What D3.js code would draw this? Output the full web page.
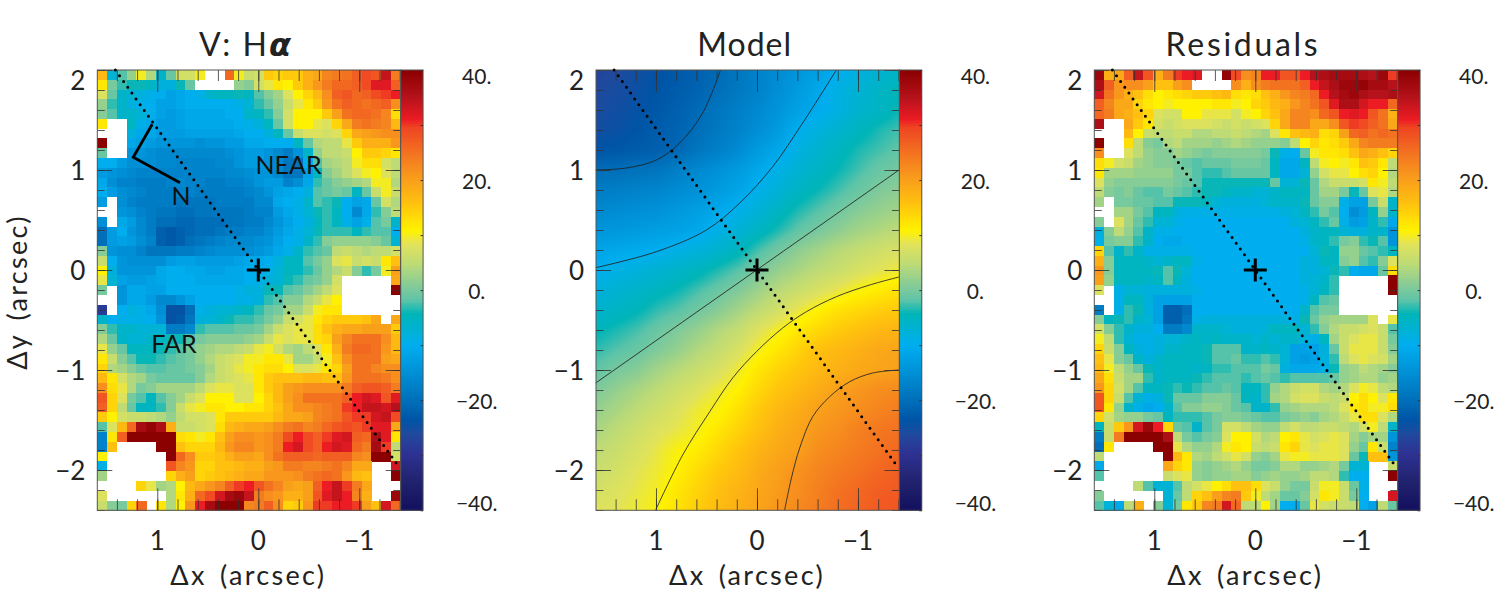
<!DOCTYPE html>
<html>

<head>
    <title>V: Halpha</title>
    <script src="https://cdn.jsdelivr.net/npm/d3@7"></script>
    <style>
        body { margin: 0; background: #fff; }
        svg { display: block; }
        text { font-family: Lato, "Open Sans", sans-serif; font-weight: 400; fill: #222; }
    </style>
</head>

<body>
    <svg width="1495" height="598" id="mainsvg"></svg>
    <script>
        const n = null;

        // velocity map, km/s per spaxel (31 columns, 45 rows, top row first)
        const velocityMap = [
            [17,-7,-2,2,10,4,-6,-1,7,7,10,n,n,26,10,6,7,15,14,15,15,18,19,23,24,25,27,29,28,34,24],
            [12,0,-3,-4,-4,-5,-8,-8,-4,-1,n,n,n,n,2,1,7,9,12,11,15,18,21,24,26,26,27,29,32,32,27],
            [8,-1,-6,-7,-8,-9,-10,-12,-11,-10,-9,-6,-5,-5,-4,-5,-2,1,3,8,11,14,17,22,27,28,26,27,29,30,31],
            [2,-3,-6,-8,-9,-10,-12,-12,-11,-10,-10,-10,-10,-10,-9,-7,-3,-1,2,6,9,12,15,21,25,27,26,25,26,27,22],
            [1,-2,-6,-6,-7,-9,-12,-13,-12,-11,-11,-11,-11,-10,-10,-6,-5,-3,1,7,11,11,11,15,20,25,26,26,25,23,13],
            [12,n,n,-5,-9,-11,-13,-13,-12,-11,-11,-11,-11,-11,-10,-9,-8,-5,-1,7,11,11,9,8,14,19,24,25,24,23,17],
            [n,n,n,-8,-11,-11,-13,-13,-13,-12,-12,-12,-12,-12,-11,-10,-10,-8,-5,-1,6,8,8,7,8,14,19,20,21,22,22],
            [40,n,n,-11,-12,-13,-14,-14,-14,-14,-15,-14,-14,-13,-13,-11,-11,-10,-10,-10,-5,-1,4,5,5,9,15,18,18,18,21],
            [-1,n,n,-14,-14,-15,-16,-16,-16,-16,-16,-16,-16,-15,-14,-13,-13,-14,-16,-18,-14,-6,2,5,5,6,11,15,15,14,12],
            [-10,-10,-13,-15,-15,-15,-16,-16,-17,-17,-17,-17,-16,-16,-14,-13,-13,-14,-16,-19,-19,-10,-2,3,4,5,10,13,13,7,5],
            [-13,-14,-15,-16,-17,-17,-17,-17,-17,-17,-17,-17,-17,-16,-16,-15,-14,-14,-16,-19,-19,-12,-5,1,3,5,8,10,11,8,5],
            [-11,-15,-17,-17,-18,-18,-18,-17,-16,-17,-17,-18,-18,-17,-17,-16,-14,-13,-13,-17,-15,-11,-3,-1,1,2,3,4,10,10,4],
            [-10,-13,-15,-16,-17,-18,-18,-18,-17,-17,-18,-18,-18,-18,-18,-17,-16,-14,-12,-11,-10,-8,-2,-1,0,-1,-5,-1,6,10,6],
            [-13,n,-15,-17,-18,-18,-18,-18,-19,-19,-19,-19,-18,-18,-18,-18,-16,-16,-11,-10,-9,-6,-2,-3,-4,-10,-12,-11,-1,7,4],
            [n,n,-14,-15,-17,-18,-19,-19,-20,-20,-19,-19,-19,-19,-19,-18,-17,-17,-13,-11,-9,-7,-4,-3,-5,-10,-16,-11,-3,1,5],
            [-15,n,-11,-13,-16,-18,-20,-20,-21,-21,-20,-20,-20,-19,-19,-18,-18,-16,-14,-12,-10,-8,-5,-3,-5,-9,-12,-9,-2,0,-6],
            [-20,-13,-10,-14,-16,-18,-22,-23,-22,-21,-20,-20,-19,-18,-18,-17,-17,-15,-13,-11,-9,-7,-4,-3,-3,-3,-5,-3,-2,-2,-10],
            [-20,-13,-12,-13,-15,-17,-22,-23,-22,-20,-19,-18,-17,-16,-16,-16,-15,-14,-12,-10,-9,-6,-3,1,2,2,2,2,1,-1,-7],
            [1,-14,-15,-15,-17,-19,-19,-19,-18,-18,-17,-16,-15,-15,-15,-15,-14,-13,-11,-9,-6,-3,-2,-1,5,6,5,4,5,5,7],
            [6,-10,-14,-15,-15,-15,-15,-13,-12,-12,-13,-13,-13,-13,-12,-11,-11,-10,-8,-5,-5,-2,0,2,8,9,6,7,6,12,16],
            [11,-8,-14,-14,-14,-14,-11,-10,-10,-11,-11,-12,-12,-11,-11,-10,-10,-9,-7,-5,-5,-3,-1,2,4,6,1,-3,0,10,20],
            [9,-7,-12,-13,-13,-12,-11,-10,-10,-10,-11,-11,-11,-11,-11,-10,-9,-8,-7,-4,-3,-1,0,2,7,n,n,n,n,n,19],
            [0,n,-14,-11,-11,-12,-12,-10,-10,-10,-10,-10,-10,-10,-9,-8,-8,-4,-4,-2,-1,1,3,5,8,n,n,n,n,n,40],
            [n,n,-14,-11,-11,-13,-16,-16,-14,-12,-10,-10,-10,-10,-9,-9,-8,-3,-2,1,1,4,6,9,11,n,n,n,n,n,n],
            [-28,n,-10,-8,-9,-11,-15,-24,-24,-20,-9,-8,-7,-7,-6,-5,-3,-1,0,3,3,6,10,12,12,n,n,n,n,n,n],
            [-6,-10,-9,-9,-9,-10,-14,-24,-23,-19,-8,-7,-6,-4,-3,-3,-2,0,2,6,7,9,12,14,15,15,15,16,19,n,19],
            [1,-3,-6,-6,-7,-7,-7,-18,-18,-16,-3,-2,-2,-2,-1,-1,0,3,6,8,9,9,13,16,18,19,19,20,20,20,15],
            [4,-1,-6,-7,-7,-6,-5,-4,-4,-2,0,1,1,1,1,2,3,6,9,8,9,9,13,14,20,23,25,25,25,22,17],
            [9,2,-1,-5,-5,-5,-4,-3,-2,0,2,3,4,4,5,6,9,10,7,4,3,5,8,12,18,24,26,26,25,21,17],
            [12,6,1,-2,-4,-4,-3,-2,-1,0,2,4,6,7,8,10,10,12,12,9,3,3,6,10,16,22,25,25,25,20,19],
            [14,4,3,1,-1,-2,-2,-1,-1,0,1,3,6,7,9,10,12,13,13,11,8,8,9,12,14,20,25,25,23,22,22],
            [17,12,7,4,3,0,-1,-1,-1,-1,1,4,6,7,8,9,12,15,16,16,16,17,17,16,16,21,25,25,25,24,22],
            [22,13,9,4,0,1,3,3,3,3,5,8,9,9,8,8,12,15,17,20,21,22,22,22,22,24,27,28,28,27,24],
            [28,14,8,0,-2,-5,-2,1,3,6,8,11,11,11,8,8,11,14,17,20,22,25,25,25,25,27,31,33,32,28,32],
            [27,14,5,-1,-5,-5,-3,1,6,9,10,12,12,11,11,12,12,14,16,19,22,22,23,24,25,30,31,34,34,33,35],
            [15,11,7,6,6,5,4,2,5,7,7,8,12,15,15,15,15,15,17,19,19,20,23,24,25,28,30,30,33,34,29],
            [-2,8,17,26,37,39,36,18,6,6,7,8,13,17,18,19,19,20,22,24,25,23,24,26,28,29,28,30,32,32,19],
            [-17,12,27,40,40,40,40,40,13,12,10,12,16,20,22,22,21,22,24,29,31,29,27,30,32,33,27,26,36,32,12],
            [-17,16,n,n,n,n,40,40,16,14,14,14,17,21,23,23,21,22,24,31,33,29,27,31,33,32,26,24,37,30,5],
            [11,n,n,n,n,n,n,40,26,22,15,15,16,18,20,20,19,22,25,27,27,27,26,27,27,27,23,22,40,40,7],
            [-9,n,n,n,n,n,n,28,23,21,14,14,16,16,17,18,18,20,21,24,24,23,23,24,25,23,19,19,n,n,33],
            [3,n,n,n,n,n,n,14,18,20,14,15,16,17,18,19,19,21,21,21,22,24,25,26,25,21,17,16,n,n,40],
            [n,n,n,n,14,9,3,4,11,17,19,21,23,27,30,31,28,25,23,20,19,20,27,31,34,30,24,19,n,n,n],
            [8,n,n,n,n,n,n,4,12,18,26,29,33,37,38,34,24,22,21,18,18,20,28,32,34,31,23,18,n,n,38],
            [6,1,0,14,26,n,12,4,11,21,31,37,40,40,40,23,24,27,22,14,15,21,30,30,31,31,30,20,16,33,26]
        ];

        // residual map, same grid
        const residualMap = [
            [38,18,19,27,34,28,18,24,30,31,32,n,n,39,29,22,23,31,31,28,28,31,35,36,37,37,37,36,35,38,30],
            [36,27,21,22,22,20,16,16,20,22,n,n,n,n,22,18,22,24,25,25,25,27,31,34,36,38,38,39,37,37,35],
            [33,25,21,18,16,13,11,12,13,14,15,15,16,17,13,12,13,16,18,21,23,24,26,31,35,37,38,36,35,35,36],
            [27,23,19,19,14,12,11,10,11,11,11,11,12,12,10,11,14,15,17,18,21,23,25,28,32,36,36,33,31,31,26],
            [26,24,19,18,16,14,8,7,7,11,11,9,9,9,7,10,11,14,16,19,23,23,22,26,28,31,32,31,28,25,18],
            [36,n,n,19,15,12,7,6,7,8,8,8,7,6,7,6,7,8,14,19,23,23,19,19,22,28,30,29,27,25,19],
            [n,n,n,17,11,6,5,5,6,6,4,4,5,5,6,5,4,3,8,12,16,17,18,13,14,20,26,27,25,26,25],
            [40,n,n,13,5,1,0,4,5,3,3,3,2,3,4,3,2,2,2,1,5,11,14,12,13,15,19,23,24,24,24],
            [22,n,n,8,5,2,1,1,3,2,1,0,1,1,1,1,1,0,-4,-9,-10,-1,10,12,12,13,16,19,18,16,14],
            [13,10,7,6,3,2,1,1,0,-1,-2,-1,-1,-1,0,0,0,-1,-5,-11,-11,-5,5,10,11,10,12,16,15,12,5],
            [12,3,3,3,2,2,2,2,0,0,-2,-3,-3,-2,-1,-1,-1,-1,-5,-11,-11,-7,2,7,9,9,11,13,14,11,4],
            [8,2,1,1,1,1,1,1,0,-1,-2,-4,-4,-4,-4,-4,-4,-4,-1,-7,-7,-4,-1,4,6,6,6,7,12,10,5],
            [5,1,0,1,-1,-2,-2,0,-1,-2,-3,-4,-4,-5,-6,-6,-7,-7,-6,-5,-5,-5,-1,3,3,0,-4,-1,8,9,4],
            [3,n,0,0,-1,-1,-2,-2,-4,-4,-4,-5,-7,-8,-8,-8,-8,-7,-6,-6,-6,-4,-1,1,1,-9,-12,-12,0,6,-6],
            [n,n,3,3,0,-2,-5,-5,-8,-9,-9,-9,-9,-9,-9,-9,-9,-9,-9,-8,-7,-5,-3,0,-2,-10,-15,-13,-5,2,-6],
            [1,n,8,3,-1,-3,-7,-7,-9,-10,-10,-10,-10,-10,-10,-10,-10,-10,-10,-10,-8,-7,-5,-3,-1,-9,-13,-12,-6,-3,-11],
            [-8,1,5,2,-2,-6,-9,-9,-10,-10,-10,-10,-10,-10,-10,-10,-10,-10,-10,-10,-10,-8,-6,-5,-5,-7,-8,-8,-6,-6,-14],
            [-9,0,1,1,-3,-6,-10,-11,-11,-10,-10,-10,-10,-10,-10,-10,-10,-10,-10,-10,-10,-9,-6,-5,-3,0,1,-3,-4,-2,-14],
            [14,-2,-6,-3,-6,-9,-9,-9,-9,-9,-10,-10,-10,-10,-10,-10,-10,-10,-10,-10,-10,-10,-7,-4,-5,2,2,-1,-2,-3,-5],
            [18,1,-5,-5,-5,-6,-7,-6,-5,-5,-9,-10,-10,-10,-10,-10,-10,-10,-10,-10,-10,-8,-8,-5,-5,1,2,-2,-3,1,8],
            [21,1,-5,-5,-5,-5,-4,-2,-4,-7,-10,-10,-10,-10,-10,-10,-10,-10,-10,-10,-10,-8,-8,-7,-4,-3,-10,-11,-11,-1,13],
            [20,2,-5,-5,-5,-6,-5,-2,-5,-8,-10,-10,-10,-10,-10,-10,-10,-10,-10,-10,-10,-8,-7,-6,-3,n,n,n,n,n,40],
            [8,n,-9,-7,-7,-8,-8,-8,-8,-8,-9,-10,-10,-10,-10,-10,-10,-10,-10,-10,-10,-9,-7,-5,-3,n,n,n,n,n,40],
            [n,n,-9,-5,-5,-8,-12,-12,-12,-12,-10,-10,-10,-10,-10,-10,-10,-10,-10,-10,-10,-9,-5,-2,-1,n,n,n,n,n,n],
            [-18,n,-9,-3,-4,-8,-12,-22,-22,-20,-10,-10,-10,-10,-10,-10,-10,-10,-10,-10,-10,-6,-2,0,0,n,n,n,n,n,n],
            [1,-5,-4,-3,-6,-7,-12,-22,-22,-19,-9,-8,-8,-8,-8,-8,-8,-8,-8,-8,-9,-4,-1,2,3,3,3,3,8,n,9],
            [7,1,-3,-6,-8,-8,-10,-18,-18,-16,-6,-6,-6,-7,-8,-8,-8,-7,-5,-5,-5,-7,-3,1,4,6,6,7,8,6,-2],
            [10,5,-3,-7,-9,-9,-8,-7,-7,-6,-5,-6,-5,-6,-6,-6,-7,-6,-7,-6,-6,-8,-9,-5,3,6,8,9,9,6,0],
            [14,6,1,-5,-8,-9,-8,-6,-6,-5,-5,-4,-2,-2,-2,-6,-6,-5,-6,-7,-12,-12,-12,-8,-1,6,9,9,9,6,1],
            [16,9,1,-1,-6,-8,-6,-5,-5,-5,-5,-4,-2,-2,-1,-3,-3,-2,-3,-7,-12,-13,-12,-8,-3,5,8,9,8,7,3],
            [17,10,5,2,-1,-4,-6,-5,-5,-5,-6,-5,-3,-3,-2,-2,-2,0,-1,-8,-11,-11,-11,-9,-4,2,3,5,4,3,1],
            [19,13,6,3,3,-3,-6,-5,-5,-5,-4,-3,-2,-2,-2,-3,-2,-1,-2,-3,-2,-2,-2,-2,-1,2,3,4,4,2,3],
            [21,14,7,3,-2,-5,-5,-4,-3,-4,-3,-2,-2,-1,-2,-5,-5,-3,2,4,6,7,7,4,3,4,8,10,9,5,4],
            [28,14,6,-2,-7,-9,-8,-4,-1,-1,-1,1,1,1,-1,-5,-6,-3,3,4,7,8,8,6,5,6,11,13,11,8,12],
            [28,12,2,-6,-9,-11,-10,-6,-2,1,1,2,2,1,-1,-2,-6,-6,-3,2,3,4,4,4,5,8,12,13,10,10,13],
            [14,7,3,2,2,0,-1,-5,-3,-3,-3,-2,0,1,1,0,-1,-2,-2,0,1,2,1,3,4,6,9,13,13,8,4],
            [-5,6,15,21,33,38,31,14,-1,-2,-6,-2,0,7,7,5,3,2,2,5,7,5,5,6,6,5,4,7,10,5,-6],
            [-18,6,24,40,40,40,40,36,5,0,-2,0,1,8,11,11,7,4,5,11,12,9,7,8,9,8,3,1,3,3,-14],
            [-20,12,n,n,n,n,40,40,9,4,2,2,4,10,12,11,6,5,6,12,14,9,8,9,9,8,2,-1,12,6,-17],
            [5,n,n,n,n,n,n,40,17,12,4,3,5,7,9,7,2,1,3,9,10,10,9,9,9,8,-1,-4,16,16,-14],
            [-11,n,n,n,n,n,n,19,14,12,2,1,2,3,4,2,0,0,1,4,4,2,2,3,4,0,-7,-7,n,n,6],
            [-2,n,n,n,n,n,n,6,8,9,2,1,2,2,3,3,1,2,3,2,2,3,5,5,4,-3,-10,-10,n,n,40],
            [n,n,n,n,5,-2,-7,-7,-2,5,7,9,11,13,16,16,13,8,6,2,0,0,6,10,10,6,-1,-9,n,n,n],
            [1,n,n,n,n,n,n,-7,-1,5,14,16,20,23,24,15,10,5,3,-1,-1,1,7,12,10,6,0,-10,n,n,33],
            [-2,-7,-11,5,18,n,1,-7,0,12,15,23,24,33,26,5,5,11,3,-10,-10,-1,9,7,6,6,5,-10,-12,5,-1]
        ];

        // model map, sampled every 0.2 arcsec (16 columns, 23 rows), top row first
        const modelMap = [
            [-27,-26,-25,-24,-23,-22,-20.5,-19,-17,-15.5,-14,-12,-10,-8.5,-7,-5.5],
            [-26,-25.5,-24.5,-23.5,-22.5,-21.5,-20,-18.5,-17,-15,-13,-11,-8.5,-7,-5.5,-4.5],
            [-25.5,-25,-24,-23,-22,-20.5,-19,-17.5,-16,-14,-12,-10.5,-8.5,-6.5,-5.5,-4],
            [-25,-24.5,-23.5,-22.5,-21.5,-20,-18.5,-17,-15,-13,-10,-8,-6.5,-5,-3.5,-2.5],
            [-23.5,-23,-22.5,-22,-21,-19,-17.5,-15.5,-13,-11,-8.5,-6.5,-5,-3.5,-2.5,-1.5],
            [-20,-20,-19.5,-19,-17.5,-16,-14.5,-13,-11,-9,-7,-5.5,-4,-2.5,-1,0],
            [-18,-17.5,-17,-16.5,-15.5,-14.5,-13,-11.5,-9.5,-7.5,-5.5,-4,-2.5,-1,0.5,1.5],
            [-16,-15.5,-15,-14.5,-13.5,-12.5,-11,-9.5,-7.5,-5.5,-3.5,-2,-0.5,1,2,3],
            [-14,-13.5,-13,-12.5,-12,-11,-9,-7.5,-5.5,-3.5,-1.5,0,1.5,3,4,5],
            [-11.5,-11,-10.5,-10,-9,-8,-6.5,-5,-2.5,-0.5,1.5,3,4.5,5.5,6.5,7.5],
            [-9.8,-8.8,-8,-7,-6,-5,-3.5,-2,0,2,3.5,5,6,7.5,8.5,9.5],
            [-8,-7,-6,-5,-4,-2.5,-1,0.5,2.5,4.5,6,7.5,9,10.5,11.5,12.5],
            [-6.5,-5.5,-4.5,-3,-2,-0.5,1,3,5,7,9,11,12.5,13.5,14.5,15],
            [-4.5,-3.5,-2.5,-1,0.5,2,4,5.5,8,10,12,13.5,15,16,17,17.5],
            [-3,-2,-1,0.5,2,4,5.5,7.5,10,12,14,16,17,18,19,19.5],
            [-1.5,0,1,3,4.5,6,7.5,9.5,12,14,15.5,17,18,19,19.5,20],
            [0.5,2,3.5,5,6.5,8,9.5,11,13.5,15.5,17,18.5,20,21,22,22.5],
            [2,3.5,5,6.5,8,9.5,10.5,12.5,15,17,18.5,20,21,22,23,24],
            [3.5,5,6.5,8,9,10,12,14,16,18,19.5,21,22,23.5,24.5,25],
            [5,6,7.5,9,10.5,11.5,13.5,15.5,17.5,19,20,22,23,24,25,26],
            [6,7,8.5,9.5,11,13,15,16.5,18.5,20,21.5,23,24,25,26,27],
            [7,8,9,10,12,14,16,17.5,19,20.5,22,23.5,25,26,27,27.5],
            [8,8.5,9.5,10.5,12.5,14.5,16.5,18,19.5,21,22.5,24,25.5,26.5,27.5,28]
        ];

        // model contours as [dx, dy] in arcsec
        const modelContours = [
            [[1.597,-1.13],[-1.406,1.0]],
            [[1.597,0.023],[0.996,0.183],[0.501,0.40],[0.171,0.67],[-0.155,1.033],[-0.452,1.47],[-0.786,2.0]],
            [[1.597,1.0],[1.293,1.02],[0.996,1.10],[0.765,1.27],[0.538,1.57],[0.362,2.0]],
            [[1.003,-2.4],[0.736,-1.85],[0.468,-1.417],[0.241,-1.08],[0.006,-0.817],[-0.254,-0.58],[-0.489,-0.417],[-0.786,-0.267],[-1.116,-0.15],[-1.406,-0.07]],
            [[-0.274,-2.4],[-0.341,-2.08],[-0.423,-1.78],[-0.551,-1.467],[-0.72,-1.267],[-0.918,-1.117],[-1.146,-1.03],[-1.406,-1.0]]
        ];

        const slitLine = [[1.415,2.0],[-1.398,-1.977]];
        const compassLine = [[1.05,1.457],[1.238,1.127],[0.775,0.873]];
        const panelLabels = [
            {text: 'NEAR', x: -0.3, y: 0.96},
            {text: 'N', x: 0.765, y: 0.65},
            {text: 'FAR', x: 0.835, y: -0.83}
        ];

        const colorStops = [-40,-34.5,-29.7,-26,-23.6,-18.7,-14.5,-10,-4.2,-1.8,0.5,4.9,8.5,10.9,15.8,20,24.2,29.7,31,35.1,40];
        const colorValues = ['#13105e','#21236f','#2e3192','#1f4a9e','#0054a6','#0078c0','#0092d8','#00aeef','#00b5b8','#5cc4a8','#7fca9b','#bedb76','#e2e35a','#fff200','#ffc20e','#f9a01b','#f47a20','#ef4423','#ed1c24','#b5121b','#8b0000'];
        const barTicks = [40,20,0,-20,-40];
        const barMinorTicks = [40,30,20,10,0,-10,-20,-30,-40];
        const xMajor = [1,0,-1];
        const yMajor = [2,1,0,-1,-2];
        const xMinor = d3.range(-7,8).map(d => d / 5);
        const yMinor = d3.range(-12,11).map(d => d / 5);

        const svg = d3.select('svg');
        const color = d3.scaleLinear().domain(colorStops).range(colorValues).clamp(true);
        const plotTop = 70, plotBottom = 510.3, panelW = 303.4, barW = 22.4;
        const fmt = d => String(d).replace('-', '\u2212');

        const panels = [
            {title: 'V', left: 97.3, grid: velocityMap, showY: true, notes: true, spacing: 2},
            {title: 'Model', left: 596, model: modelMap, spacing: 1},
            {title: 'Residuals', left: 1094.3, grid: residualMap, spacing: 2.7}
        ];

        // bilinear sampling of the model table into a small bitmap, only for painting it smooth
        function modelImage(table, xs, ys, w, h) {
            const canvas = document.createElement('canvas');
            canvas.width = w; canvas.height = h;
            const ctx = canvas.getContext('2d');
            const img = ctx.createImageData(w, h);
            const cols = table[0].length - 1, rows = table.length - 1;
            for (let j = 0; j < h; j++) {
                const fy = Math.min(rows, Math.max(0, ys(j + 0.5)));
                const y0 = Math.min(rows - 1, Math.floor(fy)), ty = fy - y0;
                for (let i = 0; i < w; i++) {
                    const fx = Math.min(cols, Math.max(0, xs(i + 0.5)));
                    const x0 = Math.min(cols - 1, Math.floor(fx)), tx = fx - x0;
                    const v = (table[y0][x0] * (1 - tx) + table[y0][x0 + 1] * tx) * (1 - ty)
                        + (table[y0 + 1][x0] * (1 - tx) + table[y0 + 1][x0 + 1] * tx) * ty;
                    const c = d3.rgb(color(v));
                    const k = (j * w + i) * 4;
                    img.data[k] = c.r; img.data[k + 1] = c.g; img.data[k + 2] = c.b; img.data[k + 3] = 255;
                }
            }
            ctx.putImageData(img, 0, 0);
            return canvas.toDataURL();
        }

        panels.forEach(p => {
            const g = svg.append('g');
            const x = d3.scaleLinear().domain([1.594,-1.41]).range([p.left, p.left + panelW]);
            const y = d3.scaleLinear().domain([2,-2.403]).range([plotTop, plotBottom]);

            if (p.grid) {
                const col = d3.scaleLinear().domain([0,31]).range([p.left, p.left + panelW]);
                const row = d3.scaleLinear().domain([0,45]).range([plotTop, plotBottom]);
                const cells = p.grid.flatMap((r, j) => r.map((v, i) => ({i, j, v}))).filter(d => d.v !== null);
                g.append('g').attr('shape-rendering', 'crispEdges').selectAll('rect').data(cells).join('rect')
                    .attr('x', d => col(d.i)).attr('y', d => row(d.j))
                    .attr('width', col(1) - col(0) + 0.3).attr('height', row(1) - row(0) + 0.3)
                    .attr('fill', d => color(d.v));
            } else {
                const w = Math.round(panelW), h = Math.round(plotBottom - plotTop);
                // table columns step 0.2 arcsec from the left edge, rows 0.2 arcsec from the top
                const xs = d3.scaleLinear().domain([0, w]).range([0, panelW / 20.2]);
                const ys = d3.scaleLinear().domain([0, h]).range([0, (plotBottom - plotTop) / 20]);
                g.append('image').attr('x', p.left).attr('y', plotTop).attr('width', panelW).attr('height', plotBottom - plotTop)
                    .attr('preserveAspectRatio', 'none').attr('href', modelImage(p.model, xs, ys, w, h));
                const line = d3.line().x(d => x(d[0])).y(d => y(d[1])).curve(d3.curveCatmullRom);
                g.selectAll('.contour').data(modelContours).join('path').attr('class', 'contour')
                    .attr('d', line).attr('fill', 'none').attr('stroke', '#222').attr('stroke-width', 1).attr('opacity', 0.85);
            }

            // ticks on all four sides, pointing in
            const ticks = [
                [d3.axisBottom(x).tickValues(xMinor), `translate(0,${plotBottom})`, -11],
                [d3.axisBottom(x).tickValues(xMajor), `translate(0,${plotBottom})`, -22],
                [d3.axisTop(x).tickValues(xMinor), `translate(0,${plotTop})`, -11],
                [d3.axisTop(x).tickValues(xMajor), `translate(0,${plotTop})`, -22],
                [d3.axisLeft(y).tickValues(yMinor), `translate(${p.left},0)`, -7.5],
                [d3.axisLeft(y).tickValues(yMajor), `translate(${p.left},0)`, -15],
                [d3.axisRight(y).tickValues(yMinor), `translate(${p.left + panelW},0)`, -7.5],
                [d3.axisRight(y).tickValues(yMajor), `translate(${p.left + panelW},0)`, -15]
            ];
            ticks.forEach(t => {
                const a = g.append('g').attr('transform', t[1]).call(t[0].tickSize(t[2]).tickFormat(''));
                a.select('.domain').remove();
                a.selectAll('line').attr('stroke', '#333').attr('stroke-opacity', 0.8);
            });

            g.append('rect').attr('x', p.left).attr('y', plotTop).attr('width', panelW).attr('height', plotBottom - plotTop)
                .attr('fill', 'none').attr('stroke', '#555').attr('stroke-width', 1);

            // slit and centre cross
            g.append('path').attr('d', d3.line().x(d => x(d[0])).y(d => y(d[1]))(slitLine))
                .attr('stroke', '#000').attr('stroke-width', 3).attr('stroke-linecap', 'round')
                .attr('stroke-dasharray', '0 7.1').attr('fill', 'none');
            g.append('path').attr('d', `M${x(0) - 11.5},${y(0)}H${x(0) + 11.5}M${x(0)},${y(0) - 11.5}V${y(0) + 11.5}`)
                .attr('stroke', '#000').attr('stroke-width', 3).attr('fill', 'none');

            if (p.notes) {
                g.append('path').attr('d', d3.line().x(d => x(d[0])).y(d => y(d[1]))(compassLine))
                    .attr('stroke', '#000').attr('stroke-width', 2.8).attr('fill', 'none');
                g.selectAll('.note').data(panelLabels).join('text').attr('class', 'note')
                    .attr('x', d => x(d.x)).attr('y', d => y(d.y)).attr('text-anchor', 'middle')
                    .style('font-size', '25px').style('fill', '#111').text(d => d.text);
            }

            // colour bar
            const barX = p.left + panelW;
            const barY = d3.scaleLinear().domain([40,-40]).range([plotTop, plotBottom]);
            g.append('g').attr('shape-rendering', 'crispEdges').selectAll('rect').data(d3.range(-40,40,0.25)).join('rect')
                .attr('x', barX).attr('width', barW)
                .attr('y', d => barY(d + 0.25)).attr('height', barY(0) - barY(0.25) + 0.5)
                .attr('fill', d => color(d + 0.125));
            g.append('rect').attr('x', barX).attr('y', plotTop).attr('width', barW).attr('height', plotBottom - plotTop)
                .attr('fill', 'none').attr('stroke', '#555');
            const barAxis = g.append('g').attr('transform', `translate(${barX + barW},0)`)
                .call(d3.axisRight(barY).tickValues(barMinorTicks).tickSize(-2.5).tickFormat(''));
            barAxis.select('.domain').remove();
            barAxis.selectAll('line').attr('stroke', '#333');
            g.selectAll('.barlabel').data(barTicks).join('text').attr('class', 'barlabel')
                .attr('x', barX + 76).attr('text-anchor', 'middle')
                .attr('y', (d, i) => [84, 189, 299, 409, 511][i])
                .style('font-size', '21px').text(d => fmt(d) + '.');

            // title
            const title = g.append('text').attr('x', p.left + panelW / 2 - 3).attr('y', 56).attr('text-anchor', 'middle')
                .style('font-size', '32px').style('letter-spacing', p.spacing + 'px');
            if (p.title === 'V') {
                title.append('tspan').text('V:  H');
                title.append('tspan').style('font-family', '"DejaVu Sans"').style('font-style', 'italic').style('font-weight', 700).text('\u03b1');
            } else {
                title.text(p.title);
            }

            // axis numbers and labels
            g.selectAll('.xnum').data(xMajor).join('text').attr('class', 'xnum')
                .attr('x', d => x(d)).attr('y', 550).attr('text-anchor', 'middle')
                .style('font-size', '26px').text(fmt);
            g.selectAll('.ynum').data(yMajor).join('text').attr('class', 'ynum')
                .attr('x', p.left - 12).attr('y', d => d === 2 ? 90 : y(d) + 10).attr('text-anchor', 'end')
                .style('font-size', '26px').text(fmt);
            g.append('text').attr('x', x(0) - 10).attr('y', 585).attr('text-anchor', 'middle')
                .style('font-size', '27px').style('letter-spacing', '2.3px').style('word-spacing', '4px').text('\u0394x (arcsec)');
            if (p.showY) {
                g.append('text').attr('transform', `translate(27,292) rotate(-90)`).attr('text-anchor', 'middle')
                    .style('font-size', '27px').style('letter-spacing', '2.3px').style('word-spacing', '4px').text('\u0394y (arcsec)');
            }
        });
    </script>
</body>

</html>
